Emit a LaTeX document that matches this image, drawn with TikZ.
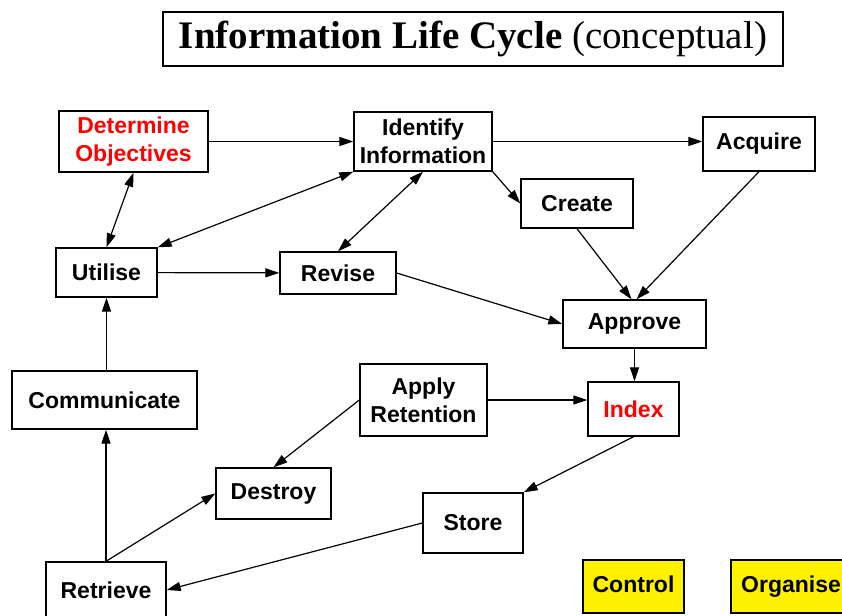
\documentclass[tikz,border=0pt]{standalone}
\usepackage{fontspec}
\setmainfont{Liberation Serif}
\setsansfont{Liberation Sans}
\usetikzlibrary{arrows.meta}

\begin{document}
\begin{tikzpicture}[x=1pt,y=-1pt,
    box/.style={draw,line width=1.4pt,fill=white,inner sep=0pt,align=center,
        font=\sffamily\bfseries\fontsize{23}{28}\selectfont},
    note/.style={box,fill=yellow,text height=17pt,text depth=5pt},
    link/.style={line width=1.2pt,-{Triangle[length=14pt,width=9pt]}},
    both/.style={link,{Triangle[length=14pt,width=9pt]}-{Triangle[length=14pt,width=9pt]}}]
    \clip (0,0) rectangle (842,615);

    \node[draw,line width=1.2pt,minimum width=620pt,minimum height=54pt,
        font=\fontsize{39}{41}\selectfont] (title) at (473,39)
        {\textbf{Information Life Cycle} (conceptual)};

    % top row
    \node[box,text=red,minimum width=149pt,minimum height=61pt] (objectives) at (133.5,141.5) {Determine\\Objectives};
    \node[box,minimum width=138pt,minimum height=59pt] (identify) at (423,141.5) {Identify\\Information};
    \node[box,minimum width=112pt,minimum height=54pt] (acquire) at (759,144) {Acquire};
    \node[box,minimum width=112pt,minimum height=49pt] (create) at (577,203.5) {Create};

    % middle
    \node[box,minimum width=101pt,minimum height=49pt] (utilise) at (106.5,272.5) {Utilise};
    \node[box,minimum width=116pt,minimum height=42pt] (revise) at (338,273) {Revise};
    \node[box,minimum width=143pt,minimum height=48pt] (approve) at (634.5,324) {Approve};
    \node[box,minimum width=185pt,minimum height=58pt] (communicate) at (104.5,400) {Communicate};
    \node[box,minimum width=127pt,minimum height=72pt] (retention) at (423.5,400) {Apply\\Retention};
    \node[box,text=red,minimum width=91pt,minimum height=54pt] (index) at (633.5,409) {Index};

    % bottom
    \node[box,minimum width=115pt,minimum height=51pt] (destroy) at (273.5,493.5) {Destroy};
    \node[box,minimum width=100pt,minimum height=60pt] (store) at (473,523) {Store};
    \node[box,minimum width=120pt,minimum height=56pt] (retrieve) at (106,590) {Retrieve};
    \node[note,minimum width=101pt,minimum height=53pt] (control) at (633.5,586.5) {Control};
    \node[note,minimum width=120pt,minimum height=53pt] (organise) at (791,586.5) {Organise};

    \draw[link] (objectives) -- (identify);
    \draw[both] (utilise.north) -- (objectives.south);
    \draw[both] (utilise.north east) -- (identify.south west);
    \draw[both] (identify.south) -- (revise.north);
    \draw[link] (identify.south east) -- (create.west);
    \draw[link] (identify.east) -- (identify.east -| acquire.west);
    \draw[link] (utilise) -- (revise);
    \draw[link] (revise.east) -- (approve.west);
    \draw[link] (create.south) -- ([xshift=-3pt]approve.north);
    \draw[link] (acquire.south) -- ([xshift=2pt]approve.north);
    \draw[link] (approve.south) -- (approve.south |- index.north);
    \draw[link] (retention.east) -- (retention.east -| index.west);
    \draw[link] (retention.west) -- (destroy.north);
    \draw[link] (index.south) -- (store.north east);
    \draw[link] (store.west) -- (retrieve.east);
    \draw[link] (retrieve.north) -- (retrieve.north |- communicate.south);
    \draw[link] (retrieve.north) -- (destroy.west);
    \draw[link] (utilise.south |- communicate.north) -- (utilise.south);

\end{tikzpicture}
\end{document}
